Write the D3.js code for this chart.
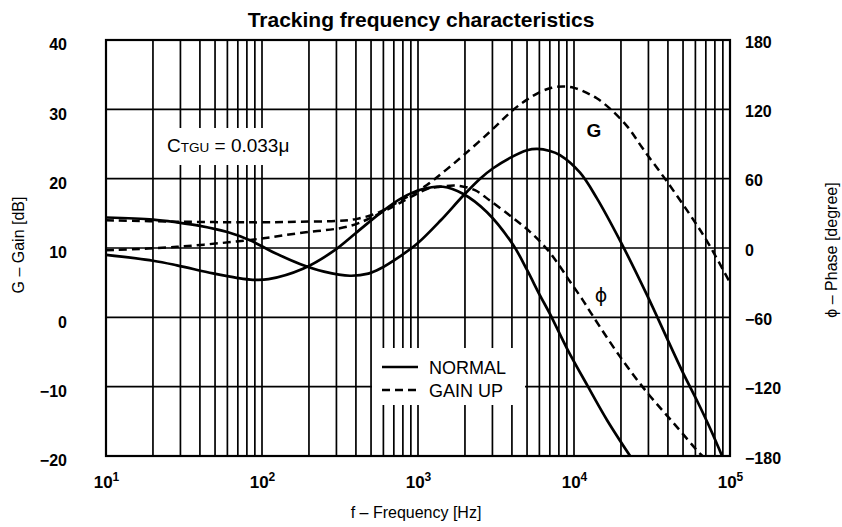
<!DOCTYPE html>
<html>
<head>
<meta charset="utf-8">
<script src="https://cdn.jsdelivr.net/npm/d3@7"></script>
<style>
  body { margin: 0; background: #fff; }
  svg { display: block; font-family: "Liberation Sans", Arial, Helvetica, sans-serif; }
</style>
</head>
<body>
<div id="chart"></div>
<script>
// curves: [frequency Hz, gain dB] and [frequency Hz, phase degree]
var gainNormal = [[10,14.4],[20,14.1],[28.5,13.7],[40,13.2],[60,12.3],[84,11.1],[118,9.4],[175,7.7],[250,6.6],[366,6.0],[480,6.3],[570,7.0],[767,8.8],[986,10.6],[1400,14.0],[1940,17.5],[2500,20.0],[3030,21.5],[3890,23.0],[5000,24.1],[5800,24.3],[7010,24.0],[8130,23.4],[10900,20.9],[14000,17.2],[19700,11.1],[29400,3.2],[39400,-3],[50000,-8],[61400,-12],[74500,-16],[89000,-20]];
var gainUp = [[10,14.0],[28.5,13.8],[107,13.7],[175,13.8],[300,13.9],[406,14.2],[570,15.2],[767,16.8],[1140,19.1],[1500,21.2],[1940,23.3],[2900,26.8],[4060,29.9],[5000,31.4],[6050,32.5],[7200,33.1],[8490,33.3],[10000,33.1],[12000,32.4],[14000,31.6],[17000,30.1],[22000,27.5],[27700,24.3],[39400,19.6],[55400,14.8],[71200,11.0],[100000,5.0]];
var phaseNormal = [[10,-6],[20,-11],[28.5,-15],[48.5,-22],[70,-26],[87.5,-27.5],[110,-27],[183,-18],[285,-3],[400,13],[570,30],[780,43],[1075,51],[1445,53],[1940,47],[2770,31],[4060,3],[5000,-19],[6050,-41],[7010,-57],[9020,-87],[12300,-120],[16300,-149],[22900,-180]];
var phaseUp = [[10,-2],[28.5,1],[84,7],[175,13],[366,19],[570,30],[767,39],[1140,51],[1384,53],[1778,54],[2317,50],[2894,41],[4064,26],[5224,14],[6714,-1],[8128,-16],[9420,-29],[11250,-44],[13240,-59],[19720,-94],[29400,-125],[43150,-151],[64270,-178],[69200,-182]];

var gainTicks = [-20, -10, 0, 10, 20, 30, 40];
var phaseTicks = [-180, -120, -60, 0, 60, 120, 180];
var freqTicks = [10, 100, 1000, 10000, 100000];
var legendItems = ["NORMAL", "GAIN UP"];

var width = 842, height = 527;
var plotLeft = 106, plotRight = 730, plotTop = 40, plotBottom = 456;

var svg = d3.select("#chart").append("svg")
    .attr("width", width)
    .attr("height", height);

svg.append("rect").attr("width", width).attr("height", height).attr("fill", "#fff");

var x = d3.scaleLog().domain([10, 100000]).range([plotLeft, plotRight]);
var yG = d3.scaleLinear().domain([-20, 40]).range([plotBottom, plotTop]);
var yP = d3.scaleLinear().domain([-180, 180]).range([plotBottom, plotTop]);

// grid
var grid = svg.append("g").attr("stroke", "#000");
grid.selectAll(".vg")
    .data(x.ticks())
    .enter().append("line")
    .attr("x1", function(d) { return x(d); })
    .attr("x2", function(d) { return x(d); })
    .attr("y1", plotTop).attr("y2", plotBottom)
    .attr("stroke-width", 1.7);
grid.selectAll(".hg")
    .data(gainTicks)
    .enter().append("line")
    .attr("x1", plotLeft).attr("x2", plotRight)
    .attr("y1", function(d) { return yG(d); })
    .attr("y2", function(d) { return yG(d); })
    .attr("stroke-width", 1.7);

svg.append("rect")
    .attr("x", plotLeft).attr("y", plotTop)
    .attr("width", plotRight - plotLeft).attr("height", plotBottom - plotTop)
    .attr("fill", "none").attr("stroke", "#000").attr("stroke-width", 2.2);

// white boxes over the grid
svg.append("rect").attr("x", 156).attr("y", 128).attr("width", 146).attr("height", 37).attr("fill", "#fff");
svg.append("rect").attr("x", 372).attr("y", 348).attr("width", 153).attr("height", 57).attr("fill", "#fff");

// axes
var fmt = function(d) { return d < 0 ? "\u2212" + (-d) : d; };
var axL = svg.append("g")
    .attr("transform", "translate(" + plotLeft + ",0)")
    .call(d3.axisLeft(yG).tickValues(gainTicks).tickSize(0).tickPadding(39).tickFormat(fmt));
var axR = svg.append("g")
    .attr("transform", "translate(" + plotRight + ",0)")
    .call(d3.axisRight(yP).tickValues(phaseTicks).tickSize(0).tickPadding(15).tickFormat(fmt));
var axB = svg.append("g")
    .attr("transform", "translate(0," + plotBottom + ")")
    .call(d3.axisBottom(x).tickValues(freqTicks).tickSize(0).tickPadding(12).tickFormat(""));

[axL, axR, axB].forEach(function(a) {
    a.select(".domain").remove();
    a.attr("font-family", null).attr("font-size", null);
    a.selectAll("text").attr("font-size", 16).attr("font-weight", "bold").attr("fill", "#000");
});
axL.selectAll("text").attr("dy", "0.62em");
axR.selectAll("text").attr("dy", "0.45em");

axB.selectAll(".tick text")
    .attr("dy", "1.15em")
    .attr("font-size", 17)
    .each(function(d) {
        var t = d3.select(this);
        t.append("tspan").text("10");
        t.append("tspan").attr("dy", -7).attr("font-size", 12).text(Math.round(Math.log10(d)));
    });

// curves
svg.append("clipPath").attr("id", "plotclip")
    .append("rect").attr("x", plotLeft).attr("y", plotTop)
    .attr("width", plotRight - plotLeft).attr("height", plotBottom - plotTop);

var gainLine = d3.line()
    .x(function(d) { return x(d[0]); })
    .y(function(d) { return yG(d[1]); })
    .curve(d3.curveCatmullRom.alpha(0.5));
var phaseLine = d3.line()
    .x(function(d) { return x(d[0]); })
    .y(function(d) { return yP(d[1]); })
    .curve(d3.curveCatmullRom.alpha(0.5));

var curves = svg.append("g").attr("clip-path", "url(#plotclip)")
    .attr("fill", "none").attr("stroke", "#000");
curves.append("path").attr("d", gainLine(gainNormal)).attr("stroke-width", 2.7);
curves.append("path").attr("d", phaseLine(phaseNormal)).attr("stroke-width", 2.7);
curves.append("path").attr("d", gainLine(gainUp)).attr("stroke-width", 2.5).attr("stroke-dasharray", "8,5");
curves.append("path").attr("d", phaseLine(phaseUp)).attr("stroke-width", 2.5).attr("stroke-dasharray", "8,5");

// legend
var legend = svg.append("g");
legend.selectAll("line")
    .data(legendItems)
    .enter().append("line")
    .attr("x1", 382).attr("x2", 418)
    .attr("y1", function(d, i) { return 367 + i * 23; })
    .attr("y2", function(d, i) { return 367 + i * 23; })
    .attr("stroke", "#000").attr("stroke-width", 2.7)
    .attr("stroke-dasharray", function(d, i) { return i ? "8,5" : null; });
legend.selectAll("text")
    .data(legendItems)
    .enter().append("text")
    .attr("x", 429)
    .attr("y", function(d, i) { return 374 + i * 23; })
    .attr("font-size", 18)
    .text(function(d) { return d; });

// labels
svg.append("text")
    .attr("x", 421).attr("y", 27)
    .attr("text-anchor", "middle")
    .attr("font-size", 21).attr("font-weight", "bold")
    .text("Tracking frequency characteristics");

var ctgu = svg.append("text").attr("x", 167).attr("y", 152).attr("font-size", 19);
ctgu.append("tspan").text("C");
ctgu.append("tspan").attr("font-size", 13.5).text("TGU");
ctgu.append("tspan").text(" = 0.033\u03bc");

svg.append("text").attr("x", 594).attr("y", 137).attr("text-anchor", "middle")
    .attr("font-size", 19).attr("font-weight", "bold").text("G");
svg.append("text").attr("x", 601).attr("y", 302).attr("text-anchor", "middle")
    .attr("font-size", 19).attr("font-family", "DejaVu Sans, sans-serif").text("\u03d5");

svg.append("text")
    .attr("transform", "translate(24,245) rotate(-90)")
    .attr("text-anchor", "middle").attr("font-size", 16)
    .text("G \u2013 Gain [dB]");
svg.append("text")
    .attr("transform", "translate(837,250) rotate(-90)")
    .attr("text-anchor", "middle").attr("font-size", 16)
    .text("\u03d5 \u2013 Phase [degree]");
svg.append("text")
    .attr("x", 416).attr("y", 518)
    .attr("text-anchor", "middle").attr("font-size", 16)
    .text("f \u2013 Frequency [Hz]");
</script>
</body>
</html>
